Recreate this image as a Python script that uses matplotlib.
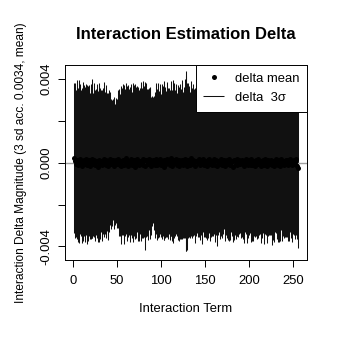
import numpy as np
import matplotlib.pyplot as plt

plt.rcParams['font.family'] = ['Liberation Sans', 'DejaVu Sans']

# 3 sd half-width per interaction term (units of 1e-4)
sd3 = [36, 37, 35, 38, 36, 37, 39, 36, 35, 37, 38, 36, 37, 35, 36, 38,
       37, 36, 35, 37, 38, 36, 34, 37, 36, 35, 37, 36, 38, 35, 36, 34,
       36, 35, 37, 34, 35, 36, 33, 35, 34, 32, 31, 30, 29, 30, 31, 29,
       30, 31, 33, 35, 34, 36, 37, 35, 36, 38, 35, 36, 37, 34, 36, 35,
       37, 36, 35, 38, 36, 34, 37, 36, 35, 37, 36, 35, 38, 36, 37, 35,
       36, 40, 37, 35, 36, 34, 36, 35, 33, 31, 30, 32, 35, 36, 34, 36,
       37, 35, 36, 34, 37, 36, 35, 38, 36, 35, 37, 36, 35, 36, 37, 35,
       36, 39, 37, 35, 36, 34, 37, 36, 35, 37, 36, 38, 35, 36, 38, 42,
       43, 40, 37, 36, 35, 37, 36, 34, 36, 35, 37, 36, 34, 35, 37, 36,
       35, 36, 38, 35, 34, 36, 37, 35, 33, 36, 35, 37, 36, 34, 35, 36,
       37, 35, 36, 38, 35, 34, 36, 37, 35, 36, 34, 33, 36, 35, 37, 36,
       35, 37, 36, 34, 35, 36, 38, 35, 36, 37, 34, 36, 35, 33, 36, 37,
       36, 35, 37, 34, 36, 38, 35, 36, 34, 37, 35, 36, 38, 35, 34, 36,
       37, 35, 36, 34, 35, 37, 36, 35, 38, 36, 34, 35, 37, 36, 35, 34,
       36, 38, 35, 37, 36, 34, 35, 36, 37, 39, 35, 36, 34, 37, 36, 35,
       36, 37, 35, 34, 36, 38, 35, 36, 37, 35, 36, 34, 37, 36, 35, 38]

# delta mean per interaction term (units of 1e-5)
means = [22, 9, -4, 14, 3, -11, 7, 18, -2, -14, 5, 12, -7, 1, 16, -9,
         -3, 11, -16, 6, 19, 0, -8, 13, -12, 4, 8, -19, 2, 15, -5, 10,
         -13, 7, 17, -1, -10, 12, 3, -17, 9, 20, -6, -2, 14, -15, 5, -8,
         11, -4, 18, 1, -12, 8, -18, 6, 15, -9, 2, 21, -3, -14, 10, 4,
         -7, 16, -11, 3, 12, -20, 7, 0, 17, -6, -13, 9, 5, -2, 19, -10,
         6, -15, 13, 2, -8, 18, -4, 11, -16, 7, 14, -1, -12, 20, 3, -9,
         10, -5, 17, -13, 4, 8, -19, 12, 1, -7, 16, -3, 9, -11, 22, 0,
         -14, 6, 11, -2, 18, -9, 3, -16, 13, 7, -6, 15, -12, 2, 19, -4,
         8, -17, 12, 5, -10, 21, -1, -8, 14, 3, -15, 10, 6, -3, 17, -11,
         1, 13, -7, 19, -13, 4, 9, -18, 11, -2, 16, -5, 7, -12, 2, 18,
         -9, 6, 14, -16, 3, 10, -4, 20, -11, 8, -1, 15, -14, 5, 12, -7,
         17, -3, -10, 9, 2, -19, 13, 6, -6, 18, -12, 4, 11, -8, 0, 15,
         -5, 10, -15, 7, 19, -2, -11, 14, 3, -9, 16, -13, 8, 1, -17, 12,
         5, -8, 20, -4, 9, -14, 2, 13, -10, 17, -1, 6, -16, 11, 4, -6,
         14, -12, 7, 1, -18, 10, 16, -3, -9, 12, 5, -15, 19, -5, 8, -11,
         3, 15, -7, 11, -13, 6, 18, -2, -10, 9, 13, -6, 4, 16, -14, -26]

terms = np.arange(1, len(means) + 1)
mu = np.array(means) * 1e-5
s = np.array(sd3) * 1e-4

fig = plt.figure(figsize=(3.41, 3.41), dpi=100)
ax = fig.add_axes([0.1906, 0.2375, 0.7097, 0.5718])

ax.vlines(terms, mu - s, mu + s, color='#111111', lw=0.75, label='delta  3\u03c3')
ax.axhline(0, color='#a0a0a0', lw=1.0)
ax.plot(terms, mu, 'o', color='black', ms=3.6, mec='none', label='delta mean')

ax.set_xlim(-9.2, 266.2)
ax.set_ylim(-0.00465, 0.00467)
ax.set_xticks([0, 50, 100, 150, 200, 250])
ax.set_yticks([-0.004, -0.002, 0, 0.002, 0.004])
ax.set_yticklabels(['-0.004', '', '0.000', '', '0.004'], rotation=90, va='center')
ax.tick_params(length=5, width=0.7, labelsize=9.4, direction='out')
ax.tick_params(axis='x', pad=6)
ax.tick_params(axis='y', pad=4)
for sp in ax.spines.values():
    sp.set_linewidth(0.7)

ax.set_title('Interaction Estimation Delta', fontsize=12, fontweight='bold', pad=19)
ax.set_xlabel('Interaction Term', fontsize=9.4, labelpad=11)
ax.set_ylabel('Interaction Delta Magnitude (3 sd acc. 0.0034, mean)', fontsize=8.6, labelpad=10)

h, l = ax.get_legend_handles_labels()
leg = ax.legend(h[::-1], l[::-1], loc='upper right', borderaxespad=0, fancybox=False,
                framealpha=1, edgecolor='black', fontsize=9.4, handlelength=1.6,
                labelspacing=0.5, borderpad=0.6, handletextpad=0.8)
leg.get_frame().set_linewidth(0.7)

fig.savefig('out.png', dpi=100)
